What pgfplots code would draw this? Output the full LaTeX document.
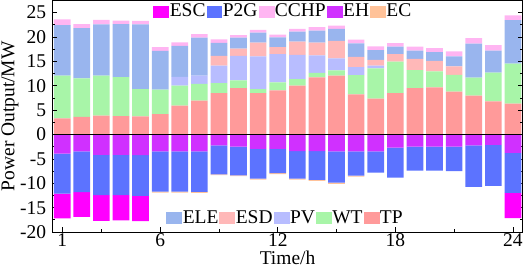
\documentclass[border=0pt]{standalone}
\usepackage{fontspec}
\setmainfont{Liberation Serif}
\usepackage{pgfplots}
\usepackage{pgfplotstable}
\pgfplotsset{compat=1.18}

\definecolor{cESC}{HTML}{FF00FF}
\definecolor{cP2G}{HTML}{5C73FF}
\definecolor{cCCHP}{HTML}{FFB5F2}
\definecolor{cEH}{HTML}{D030FF}
\definecolor{cEC}{HTML}{FFC299}
\definecolor{cELE}{HTML}{99B5EE}
\definecolor{cESD}{HTML}{FFB8B8}
\definecolor{cPV}{HTML}{B8BDFF}
\definecolor{cWT}{HTML}{A8F5A8}
\definecolor{cTP}{HTML}{FF9A9A}

\pgfplotstableread{
h  TP    WT   PV   ESD  ELE   CCHP
1  3.30  8.75 0    0    10.40 1.15
2  3.60  7.90 0    0    10.30 0.85
3  3.90  8.15 0    0    10.55 0.90
4  3.75  8.00 0    0    10.90 0.70
5  3.70  5.60 0    0    13.30 0.70
6  4.20  5.00 0    0    7.95  0.75
7  5.90  4.10 1.80 0    6.40  0.70
8  6.95  3.45 1.65 0    7.80  0.75
9  8.50  2.05 3.60 1.95 2.70  0.70
10 9.50  1.60 5.00 1.50 2.25  0.55
11 8.50  0.80 6.70 2.85 2.05  0.55
12 9.05  1.65 5.80 1.40 2.00  0.60
13 10.05 1.30 5.00 2.70 2.05  0.55
14 11.70 0.95 3.60 2.60 2.45  0.70
15 12.10 1.05 2.45 3.60 2.45  0.70
16 8.25  3.95 1.60 2.10 2.80  0.75
17 7.35  6.20 0.60 1.15 2.00  0.75
18 8.50  6.45 0    1.55 1.50  0.75
19 9.50  3.70 0    2.30 1.70  0.80
20 9.65  3.30 0    2.15 1.80  0.80
21 8.80  3.45 0    1.70 2.05  1.05
22 7.95  3.70 0    0    7.00  1.10
23 6.80  5.90 0    0    4.50  1.15
24 6.35  8.20 0    0    8.90  1.00
}\pos

\pgfplotstableread{
h  EH    P2G   ESC   EC
1  -3.90 -8.20 -5.10 0
2  -3.45 -8.35 -5.10 0
3  -4.15 -8.30 -5.25 0
4  -4.15 -8.30 -5.15 0
5  -4.20 -8.40 -5.15 0
6  -3.45 -8.25 0     -0.20
7  -3.45 -8.25 0     -0.20
8  -3.45 -8.30 0     -0.20
9  -2.20 -5.95 0     -0.15
10 -2.50 -5.85 0     -0.20
11 -2.95 -6.10 0     -0.20
12 -2.95 -4.95 0     -0.20
13 -3.40 -5.65 0     -0.20
14 -3.40 -5.90 0     -0.20
15 -3.45 -6.40 0     -0.25
16 -3.45 -5.00 0     -0.20
17 -3.45 -4.35 0     0
18 -2.70 -6.15 0     0
19 -2.50 -4.90 0     0
20 -2.50 -4.90 0     0
21 -2.50 -5.00 0     0
22 -2.25 -8.50 0     0
23 -2.10 -8.45 0     0
24 -3.75 -8.20 -5.20 0
}\neg

\pgfplotsset{
  common/.style={
    width=471pt, height=232pt, scale only axis,
    xmin=0.5, xmax=24.5, ymin=-20, ymax=27.5,
    ybar stacked, bar width=0.85,
    legend columns=5,
    legend style={draw=none, fill=none, inner sep=0pt,
      font=\fontsize{19.5}{21}\selectfont,
      nodes={inner xsep=1pt, inner ysep=0pt},
      /tikz/every even column/.append style={column sep=0pt}},
  },
  sq/.style={legend image code/.code={\fill[#1] (0pt,-5.5pt) rectangle (15pt,5.5pt);}},
}

\begin{document}
\begin{tikzpicture}
\begin{axis}[common, hide axis,
  legend style={at={(0.242,0.06)}, anchor=west}]
\addlegendimage{sq=cELE}\addlegendentry{ELE}
\addlegendimage{sq=cESD}\addlegendentry{ESD}
\addlegendimage{sq=cPV}\addlegendentry{PV}
\addlegendimage{sq=cWT}\addlegendentry{WT}
\addlegendimage{sq=cTP}\addlegendentry{TP}
\addplot[fill=cTP, draw=none] table[x=h, y=TP] {\pos};
\addplot[fill=cWT, draw=none] table[x=h, y=WT] {\pos};
\addplot[fill=cPV, draw=none] table[x=h, y=PV] {\pos};
\addplot[fill=cESD, draw=none] table[x=h, y=ESD] {\pos};
\addplot[fill=cELE, draw=none] table[x=h, y=ELE] {\pos};
\addplot[fill=cCCHP, draw=none] table[x=h, y=CCHP] {\pos};
\end{axis}
\begin{axis}[common,
  legend style={at={(0.2144,0.953)}, anchor=west},
  axis line style={black, line width=0.8pt},
  tick align=inside,
  xtick={1,6,12,18,24}, minor xtick={3,9,15,21},
  xtick pos=bottom,
  ytick={-20,-15,...,25}, minor ytick={-17.5,-12.5,...,22.5},
  ytick pos=both,
  major tick length=5pt, minor tick length=3pt,
  tick style={black, line width=0.8pt},
  /pgf/number format/assume math mode=true,
  ticklabel style={font=\fontsize{19.5}{21}\selectfont},
  yticklabel style={inner xsep=1pt, xshift=-5pt},
  xticklabel style={inner ysep=1pt},
  label style={font=\fontsize{19.5}{21}\selectfont},
  xlabel={Time/h}, ylabel={Power Output/MW},
  xlabel style={inner xsep=2pt, inner ysep=3.5pt, yshift=0pt},
  ylabel style={inner sep=1.5pt, yshift=-1pt},
]
\addlegendimage{sq=cESC}\addlegendentry{ESC}
\addlegendimage{sq=cP2G}\addlegendentry{P2G}
\addlegendimage{sq=cCCHP}\addlegendentry{CCHP}
\addlegendimage{sq=cEH}\addlegendentry{EH}
\addlegendimage{sq=cEC}\addlegendentry{EC}
\addplot[fill=cEH, draw=none] table[x=h, y=EH] {\neg};
\addplot[fill=cP2G, draw=none] table[x=h, y=P2G] {\neg};
\addplot[fill=cESC, draw=none] table[x=h, y=ESC] {\neg};
\addplot[fill=cEC, draw=none] table[x=h, y=EC] {\neg};
\end{axis}
\begin{axis}[width=471pt, height=232pt, scale only axis,
  xmin=0.5, xmax=24.5, ymin=-20, ymax=27.5, hide axis]
\addplot[black, line width=0.8pt, no marks] coordinates {(0.5,0) (24.5,0)};
\end{axis}
\end{tikzpicture}
\end{document}
